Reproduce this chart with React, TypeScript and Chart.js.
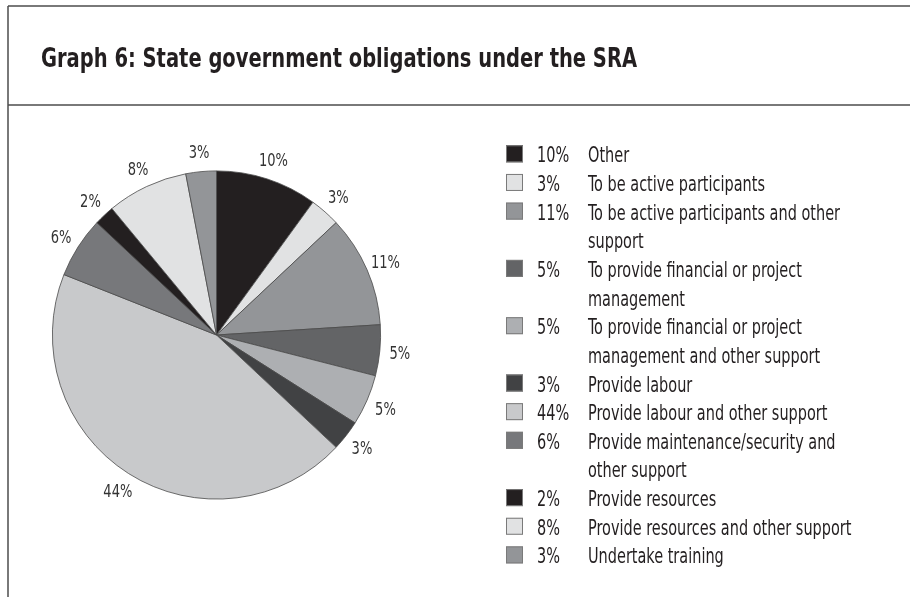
import React, { useEffect, useRef } from "react";
import { Chart, registerables } from "chart.js";

Chart.register(...registerables);

const TITLE = "Graph 6: State government obligations under the SRA";

const categories = [
  "Other",
  "To be active participants",
  "To be active participants and other support",
  "To provide financial or project management",
  "To provide financial or project management and other support",
  "Provide labour",
  "Provide labour and other support",
  "Provide maintenance/security and other support",
  "Provide resources",
  "Provide resources and other support",
  "Undertake training",
];

const legendLines = [
  ["Other"],
  ["To be active participants"],
  ["To be active participants and other", "support"],
  ["To provide financial or project", "management"],
  ["To provide financial or project", "management and other support"],
  ["Provide labour"],
  ["Provide labour and other support"],
  ["Provide maintenance/security and", "other support"],
  ["Provide resources"],
  ["Provide resources and other support"],
  ["Undertake training"],
];

const values = [10, 3, 11, 5, 5, 3, 44, 6, 2, 8, 3];

const colors = [
  "#231f20",
  "#e1e2e3",
  "#939598",
  "#636466",
  "#adafb2",
  "#414244",
  "#c8c9cb",
  "#77787b",
  "#231f20",
  "#e1e2e3",
  "#939598",
];

const FONT = '"Liberation Sans Narrow", "DejaVu Sans Condensed", "Liberation Sans", sans-serif';

function drawScaled(ctx: CanvasRenderingContext2D, text: string, x: number, y: number, sx: number, align: "left" | "center" = "left") {
  ctx.save();
  ctx.translate(x, y);
  ctx.scale(sx, 1);
  ctx.textAlign = align;
  ctx.fillText(text, 0, 0);
  ctx.restore();
}

const overlayPlugin = {
  id: "overlay",
  afterDraw(chart: any) {
    const ctx: CanvasRenderingContext2D = chart.ctx;
    ctx.save();
    // frame
    ctx.strokeStyle = "#4d4d4d";
    ctx.lineWidth = 1.5;
    ctx.beginPath();
    ctx.moveTo(8, 6);
    ctx.lineTo(910, 6);
    ctx.moveTo(8, 6);
    ctx.lineTo(8, 597);
    ctx.moveTo(8, 105);
    ctx.lineTo(910, 105);
    ctx.stroke();

    // title
    ctx.fillStyle = "#231f20";
    ctx.textBaseline = "alphabetic";
    ctx.font = `bold 27px ${FONT}`;
    const tw = ctx.measureText(TITLE).width;
    drawScaled(ctx, TITLE, 41, 67, 596 / tw);

    // pie labels
    const meta = chart.getDatasetMeta(0);
    ctx.font = `18px ${FONT}`;
    ctx.fillStyle = "#333333";
    const lsx = 29 / ctx.measureText("44%").width;
    meta.data.forEach((arc: any, i: number) => {
      const mid = (arc.startAngle + arc.endAngle) / 2;
      const r = arc.outerRadius + 20;
      const x = arc.x + Math.cos(mid) * r;
      const y = arc.y + Math.sin(mid) * r + 6.5;
      drawScaled(ctx, values[i] + "%", x, y, lsx, "center");
    });

    // legend
    ctx.font = `22px ${FONT}`;
    const gsx = 252 / ctx.measureText("To be active participants and other").width;
    let row = 0;
    const rowH = 28.65;
    const base0 = 162.3;
    categories.forEach((_, i) => {
      const b = base0 + row * rowH;
      ctx.fillStyle = colors[i];
      ctx.fillRect(506, b - 17, 17, 17);
      ctx.strokeStyle = "#7a7a7a";
      ctx.lineWidth = 1;
      ctx.strokeRect(506.5, b - 16.5, 16, 16);
      ctx.fillStyle = "#231f20";
      drawScaled(ctx, values[i] + "%", 537, b, gsx);
      legendLines[i].forEach((line, j) => {
        drawScaled(ctx, line, 588, b + j * rowH, gsx);
      });
      row += legendLines[i].length;
    });
    ctx.restore();
  },
};

export default function App() {
  const ref = useRef<HTMLCanvasElement | null>(null);
  useEffect(() => {
    if (!ref.current) return;
    const chart = new Chart(ref.current, {
      type: "pie",
      data: {
        labels: categories,
        datasets: [
          {
            data: values,
            backgroundColor: colors,
            borderColor: "#4a4a4a",
            borderWidth: 0.8,
          },
        ],
      },
      options: {
        responsive: false,
        animation: false,
        events: [],
        layout: { padding: { left: 52, top: 170.5, right: 529, bottom: 97.5 } },
        plugins: { legend: { display: false }, tooltip: { enabled: false } },
      },
      plugins: [overlayPlugin],
    });
    return () => chart.destroy();
  }, []);
  return (
    <div style={{ position: "fixed", left: 0, top: 0, width: 910, height: 597, background: "#fff" }}>
      <canvas ref={ref} width={910} height={597} style={{ width: 910, height: 597, display: "block" }} />
    </div>
  );
}
